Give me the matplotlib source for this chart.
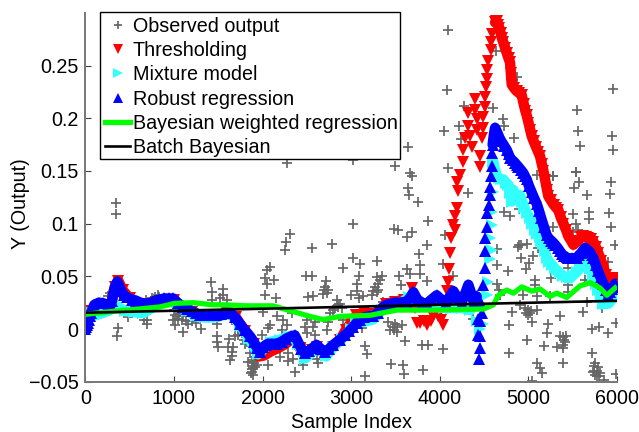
import matplotlib
matplotlib.use("Agg")
import matplotlib.pyplot as plt
from matplotlib.patches import Rectangle

plt.rcParams['font.family'] = ['Liberation Sans', 'DejaVu Sans']

obs_x = [4096,4085,4277,4608,4722,4729,4221,4055,4243,4846,3644,4093,3671,3690,5550,5562,5588,5547,5965,5950,5957,5287,5099,4639,4872,2275,3497,3022,345,345,
4326,5287,5543,5581,5520,5663,5935,5927,4729,4797,4899,5513,5690,5690,5543,5920,5938,5287,5569,5513,4063,4903,4993,5117,4646,5984,4921,5061,5016,4978,4778,4646,5908,4044,5456,4157,5260,5080,5080,4654,5456,5645,5456,4676,4684,4948,5098,5249,5663,4910,4816,5004,5098,4967,5023,5362,5626,5833,4383,5042,4786,5230,5211,5720,5807,5908,5991,4993,5181,5362,5430,5419,5324,5400,4790,4044,5720,5392,5098,5758,5136,5155,5795,5739,5814,5863,5995,5042,5776,
3648,3656,3761,3874,3027,3486,3535,3694,3637,3855,2311,2266,2255,2789,2556,3769,3019,3102,3298,2914,3780,2085,2047,2029,2130,2047,2488,2563,3095,3629,3667,3543,3780,2714,3072,3855,2707,2744,2680,2725,3072,3347,3309,3272,3290,3234,3565,2029,2153,2518,2567,2997,3095,3140,3366,2846,2857,2801,2763,2010,2160,2236,2330,2273,2085,2066,2499,2594,2744,2481,2575,2733,2914,3121,3422,3479,3441,3517,3573,1991,2217,2499,2594,3611,3159,3185,3799,3874,3452,3592,3603,3818,3159,2066,2198,2292,2292,2349,2368,2481,2462,2612,2631,1915,1878,1915,1878,1897,
1414,1433,1550,1557,1425,1520,1595,277,258,371,359,680,747,815,691,665,484,691,1011,992,1049,1011,1086,1162,1105,1301,1482,1482,1490,1501,1621,1614,1670,1689,1764,1802,1652,1633,1859,1896,1840,1934,1896,1870,1652,
1700,1750,1720,1790,1830,1000,1030,1060,1100,1130,1200,1250,790,830,860,780,3330,3290,3310,3250,2700,2850,2880,2820,2900,3490,3520,3500,1890,1880,1905,5030,5000,4980,5745,5780,5760,5750,5800,5410,5390,5400,4920,4890]
obs_y = [0.284,0.227,0.212,0.210,0.199,0.193,0.193,0.188,0.180,0.181,0.173,0.153,0.148,0.145,0.208,0.188,0.174,0.149,0.228,0.183,0.170,0.145,0.146,0.264,0.239,0.158,0.155,0.160,0.120,0.109,
0.129,0.145,0.149,0.140,0.134,0.127,0.140,0.128,0.111,0.107,0.114,0.109,0.111,0.104,0.100,0.110,0.097,0.097,0.094,0.092,0.089,0.080,0.081,0.077,0.076,0.080,0.067,0.069,0.063,0.057,0.055,0.061,0.064,0.062,0.058,0.050,0.048,0.047,0.042,0.043,0.042,0.047,0.035,0.037,0.032,0.032,0.031,0.031,0.026,0.023,0.016,0.018,0.018,0.020,0.015,0.012,0.016,0.020,0.010,0.007,0.004,0.005,-0.004,0.000,0.002,-0.004,0.006,-0.010,-0.016,-0.007,-0.007,-0.012,-0.017,-0.015,-0.023,-0.019,-0.023,-0.032,-0.032,-0.032,-0.037,-0.042,-0.036,-0.041,-0.042,-0.048,-0.043,-0.049,-0.045,
0.134,0.127,0.121,0.103,0.100,0.095,0.094,0.092,0.087,0.080,0.090,0.083,0.075,0.081,0.077,0.071,0.067,0.062,0.065,0.058,0.061,0.059,0.056,0.048,0.047,0.043,0.050,0.050,0.050,0.057,0.052,0.050,0.052,0.046,0.043,0.046,0.040,0.037,0.033,0.034,0.036,0.050,0.043,0.040,0.035,0.032,0.042,0.032,0.029,0.030,0.031,0.032,0.029,0.031,0.026,0.028,0.023,0.018,0.015,0.016,0.012,0.009,0.015,0.004,0.004,0.001,0.009,0.007,0.007,0.002,0.002,-0.001,0.009,0.001,0.007,0.002,-0.001,-0.003,0.004,-0.006,-0.001,-0.004,-0.006,-0.011,-0.016,-0.024,-0.015,-0.015,-0.033,-0.034,-0.043,-0.039,-0.045,-0.034,-0.027,-0.023,-0.030,-0.028,-0.041,-0.017,-0.034,-0.028,-0.032,-0.027,-0.031,-0.036,-0.041,-0.044,
0.045,0.035,0.038,0.032,0.028,0.029,0.028,0.034,0.031,0.001,-0.007,0.028,0.029,0.032,0.005,0.009,0.011,0.009,0.013,0.009,0.010,0.004,0.009,0.005,-0.003,0.000,0.005,-0.007,-0.012,-0.017,-0.009,-0.017,-0.017,-0.007,-0.004,-0.014,-0.026,-0.029,-0.023,-0.029,-0.031,-0.034,-0.037,-0.042,-0.022,
0.005,0.000,-0.006,-0.010,-0.012,0.018,0.012,0.014,0.012,0.008,0.008,0.006,0.030,0.030,0.028,0.027,0.047,0.049,0.037,0.036,0.037,0.021,0.024,0.020,0.020,-0.001,0.002,0.005,-0.035,-0.038,-0.032,0.017,0.013,0.015,-0.035,-0.040,-0.044,-0.040,-0.045,-0.010,-0.008,-0.018,0.080,0.078]

thr_x = [0,60,120,200,280,330,370,420,500,600,700,800,900,1000,1100,1200,1300,1400,1500,1600,1700,1800,1900,1960,2020,2100,2180,2260,2340,2420,2480,2560,2620,2700,2800,2880,2940,3000,3060,3150,3250,3320,3400,3500,3600,3686,3720,3742,3780,3820,3855,3900,3931,3980,4020,4044,4070,4081,4100,4108,4119,4127,4157,4176,4176,4194,4213,4194,4232,4270,4270,4364,4288,4345,4326,4326,4402,4402,4420,4428,4458,4458,4477,4496,4496,4515,4515,4526,4533,4541,4552,4579,4579,4590,
4628,4640,4650,4660,4675,4690,4705,4722,4740,4760,4780,4797,4806,4816,4840,4870,4900,4929,4950,4970,4985,5005,5025,5042,5065,5090,5115,5136,5155,5174,5195,5215,5230,5260,5290,5320,5343,5370,5400,5430,5456,5485,5513,5540,5570,5600,5626,5655,5680,5710,5739,5765,5795,5825,5852,5880,5908,5935,5965,6000]
thr_y = [0.017,0.013,0.014,0.016,0.020,0.040,0.046,0.037,0.029,0.024,0.022,0.026,0.028,0.028,0.020,0.016,0.013,0.012,0.012,0.015,0.011,-0.002,-0.014,-0.026,-0.025,-0.021,-0.018,-0.014,-0.009,-0.018,-0.026,-0.020,-0.017,-0.024,-0.017,-0.010,-0.001,0.006,0.013,0.016,0.014,0.016,0.024,0.026,0.028,0.039,0.020,0.006,0.006,0.008,0.004,0.008,0.012,0.012,0.009,0.004,0.020,0.036,0.045,0.057,0.072,0.086,0.099,0.094,0.107,0.115,0.131,0.140,0.146,0.159,0.170,0.173,0.181,0.183,0.193,0.205,0.208,0.218,0.199,0.189,0.154,0.164,0.181,0.191,0.201,0.211,0.220,0.230,0.237,0.246,0.254,0.265,0.272,0.280,
0.291,0.292,0.292,0.289,0.286,0.281,0.276,0.272,0.267,0.262,0.257,0.253,0.243,0.232,0.229,0.226,0.224,0.222,0.214,0.207,0.203,0.196,0.189,0.183,0.178,0.173,0.168,0.164,0.157,0.150,0.141,0.132,0.126,0.122,0.118,0.115,0.113,0.106,0.100,0.094,0.088,0.084,0.080,0.082,0.084,0.087,0.088,0.087,0.086,0.085,0.083,0.078,0.072,0.065,0.059,0.051,0.043,0.046,0.048,0.048]

mix_x = [0,60,150,250,350,450,550,650,750,850,950,1050,1150,1250,1350,1450,1550,1650,1750,1850,1950,2000,2100,2200,2300,2400,2480,2560,2640,2720,2800,2900,3000,3060,3150,3250,3350,3450,3550,3650,3750,3850,3950,4050,4150,4250,4350,4420,4460,4496,4533,4552,4571,4571,4590,4590,4590,4600,
4609,4625,4646,4670,4690,4722,4750,4778,4798,4816,4835,4850,4870,4890,4910,4935,4960,4990,5023,5050,5080,5105,5130,5150,5174,5195,5211,5240,5270,5300,5324,5360,5400,5440,5475,5510,5550,5590,5626,5663,5700,5739,5765,5790,5820,5852,5880,5908,5950,5984]
mix_y = [0.016,0.012,0.014,0.017,0.022,0.017,0.016,0.015,0.020,0.026,0.027,0.022,0.017,0.012,0.011,0.011,0.013,0.014,0.003,-0.009,-0.024,-0.020,-0.012,-0.010,-0.007,-0.014,-0.028,-0.022,-0.018,-0.026,-0.017,-0.009,0.000,0.006,0.007,0.009,0.018,0.022,0.024,0.030,0.027,0.022,0.022,0.020,0.020,0.020,0.018,0.008,0.000,0.005,0.032,0.045,0.066,0.086,0.075,0.099,0.111,0.130,
0.159,0.152,0.146,0.143,0.142,0.142,0.139,0.137,0.129,0.121,0.132,0.128,0.125,0.126,0.127,0.121,0.115,0.110,0.105,0.100,0.094,0.090,0.087,0.084,0.081,0.074,0.067,0.064,0.061,0.058,0.056,0.053,0.050,0.049,0.048,0.051,0.054,0.058,0.062,0.064,0.057,0.050,0.043,0.037,0.030,0.024,0.024,0.024,0.028,0.034]

rob_x = [0,10,20,30,40,50,60,100,150,200,250,280,300,320,340,360,380,400,430,470,520,570,620,690,740,790,840,890,940,990,1040,1105,1150,1200,1250,1290,1340,1390,1440,1480,1530,1580,1630,1690,1745,1800,1860,1900,1940,1970,2010,2040,2065,2110,2160,2215,2270,2320,2365,2400,2440,2480,2520,2565,2610,2660,2705,2750,2800,2875,2930,2980,3025,3064,3102,3150,3200,3253,3300,3350,3403,3450,3500,3550,3629,3670,3705,3750,3800,3855,3910,3968,4020,4070,4110,4157,4200,4250,4300,4326,4350,4385,4420,4445,4470,4450,4458,4439,4458,4458,4439,4476,4496,4515,4515,4515,4533,4541,4560,4571,4571,4578,4590,4590,
4600,4615,4628,4645,4660,4680,4700,4730,4760,4780,4800,4825,4850,4870,4891,4920,4948,4965,4985,5010,5040,5070,5098,5125,5150,5180,5211,5235,5260,5285,5306,5335,5360,5385,5410,5435,5456,5500,5550,5575,5600,5625,5645,5675,5700,5720,5739,5765,5790,5820,5852,5880,5908,5930,5950,5984,6000]
rob_y = [0.000,0.002,0.004,0.006,0.009,0.012,0.015,0.023,0.025,0.0245,0.023,0.022,0.027,0.036,0.042,0.045,0.041,0.037,0.032,0.030,0.028,0.027,0.025,0.024,0.025,0.027,0.028,0.029,0.029,0.029,0.025,0.021,0.019,0.017,0.015,0.013,0.013,0.013,0.013,0.013,0.014,0.015,0.016,0.011,0.005,-0.001,-0.007,-0.012,-0.018,-0.022,-0.017,-0.015,-0.014,-0.014,-0.014,-0.012,-0.009,-0.007,-0.006,-0.012,-0.019,-0.023,-0.021,-0.018,-0.015,-0.019,-0.022,-0.019,-0.015,-0.010,-0.006,-0.002,0.002,0.006,0.009,0.011,0.012,0.012,0.015,0.020,0.023,0.024,0.025,0.025,0.026,0.030,0.035,0.028,0.025,0.024,0.028,0.032,0.028,0.025,0.030,0.036,0.030,0.025,0.036,0.042,0.036,0.026,0.031,0.028,0.025,-0.028,-0.018,-0.006,-0.007,0.008,0.010,0.015,0.042,0.058,0.074,0.086,0.097,0.110,0.118,0.127,0.135,0.145,0.155,0.167,
0.175,0.185,0.191,0.188,0.185,0.181,0.178,0.174,0.170,0.166,0.162,0.160,0.158,0.156,0.154,0.151,0.148,0.145,0.142,0.136,0.130,0.124,0.119,0.112,0.105,0.097,0.089,0.086,0.084,0.082,0.080,0.077,0.074,0.071,0.069,0.068,0.067,0.067,0.067,0.070,0.072,0.075,0.077,0.075,0.073,0.070,0.067,0.061,0.055,0.049,0.043,0.037,0.032,0.035,0.038,0.043,0.040]

bwr_x = [0,280,690,840,1010,1220,1440,1560,1820,2120,2350,2535,2685,2876,3215,3516,3931,4496,4609,4665,4760,4835,4929,5042,5136,5249,5325,5438,5588,5702,5814,5890,5984]
bwr_y = [0.014,0.0165,0.0197,0.021,0.0244,0.025,0.023,0.023,0.022,0.022,0.0165,0.012,0.009,0.012,0.013,0.018,0.018,0.019,0.023,0.032,0.037,0.034,0.040,0.036,0.038,0.031,0.034,0.030,0.041,0.044,0.039,0.032,0.039]

batch_x = [0,6000]
batch_y = [0.0155,0.0268]

xticks = [0,1000,2000,3000,4000,5000,6000]
yticks = [-0.05,0,0.05,0.1,0.15,0.2,0.25]
yticklabels = ['\u22120.05','0','0.05','0.1','0.15','0.2','0.25']

def band(ax, xs, ys, lo, hi, color):
    # fills the gaps between neighbouring markers where the series runs as a solid band
    px = [a for a in xs if lo <= a <= hi]
    py = [b for a, b in zip(xs, ys) if lo <= a <= hi]
    ax.plot(px, py, '-', color=color, lw=7.5, solid_capstyle='round', solid_joinstyle='round')

fig = plt.figure(figsize=(6.39,4.32),dpi=100)
ax = fig.add_axes([0.1338,0.1164,0.831,0.8536])
ax.plot(obs_x,obs_y,'+',color='#666666',ms=6.5,mew=1.25,label='Observed output')
band(ax,thr_x,thr_y,0,3650,'#ff0000'); band(ax,thr_x,thr_y,4628,6000,'#ff0000')
ax.plot(thr_x,thr_y,'v',color='#ff0000',ms=8.6,mew=0,label='Thresholding')
band(ax,mix_x,mix_y,0,4350,'#33ffff'); band(ax,mix_x,mix_y,4609,6000,'#33ffff')
ax.plot(mix_x,mix_y,'>',color='#33ffff',ms=8.6,mew=0,label='Mixture model')
band(ax,rob_x,rob_y,60,4420,'#0000ff'); band(ax,rob_x,rob_y,4600,6000,'#0000ff')
ax.plot(rob_x,rob_y,'^',color='#0000ff',ms=8.6,mew=0,label='Robust regression')
ax.plot(bwr_x,bwr_y,'-',color='#00ff00',lw=3.8,label='Bayesian weighted regression',solid_joinstyle='round')
ax.plot(batch_x,batch_y,'-',color='black',lw=1.9,label='Batch Bayesian')
ax.set_xlim(0,6000)
ax.set_ylim(-0.05,0.3)
ax.set_xticks(xticks)
ax.set_yticks(yticks)
ax.set_yticklabels(yticklabels)
ax.tick_params(direction='in',length=4,width=0.8,color='#444444',labelsize=14.2)
ax.tick_params(axis='x',pad=5.5)
ax.tick_params(axis='y',pad=5)
for s in ('top','right'):
    ax.spines[s].set_visible(False)
for s in ('left','bottom'):
    ax.spines[s].set_color('#777777')
    ax.spines[s].set_linewidth(1.4)
ax.set_xlabel('Sample Index',fontsize=14.2,labelpad=3)
ax.set_ylabel('Y (Output)',fontsize=14.2)
ax.yaxis.set_label_coords(-0.104,0.482)
ax.add_patch(Rectangle((0.0282,0.604),0.5641,0.3987,transform=ax.transAxes,facecolor='white',
    edgecolor='black',lw=1.0,clip_on=False,zorder=4.9))
leg = ax.legend(loc='upper left',bbox_to_anchor=(0.0282,1.003),fontsize=14.2,frameon=False,
    borderaxespad=0,markerscale=0.82,handlelength=1.25,handletextpad=0.15,labelspacing=0.27,
    borderpad=0.24,numpoints=1)
fig.savefig('out.png',dpi=100)
